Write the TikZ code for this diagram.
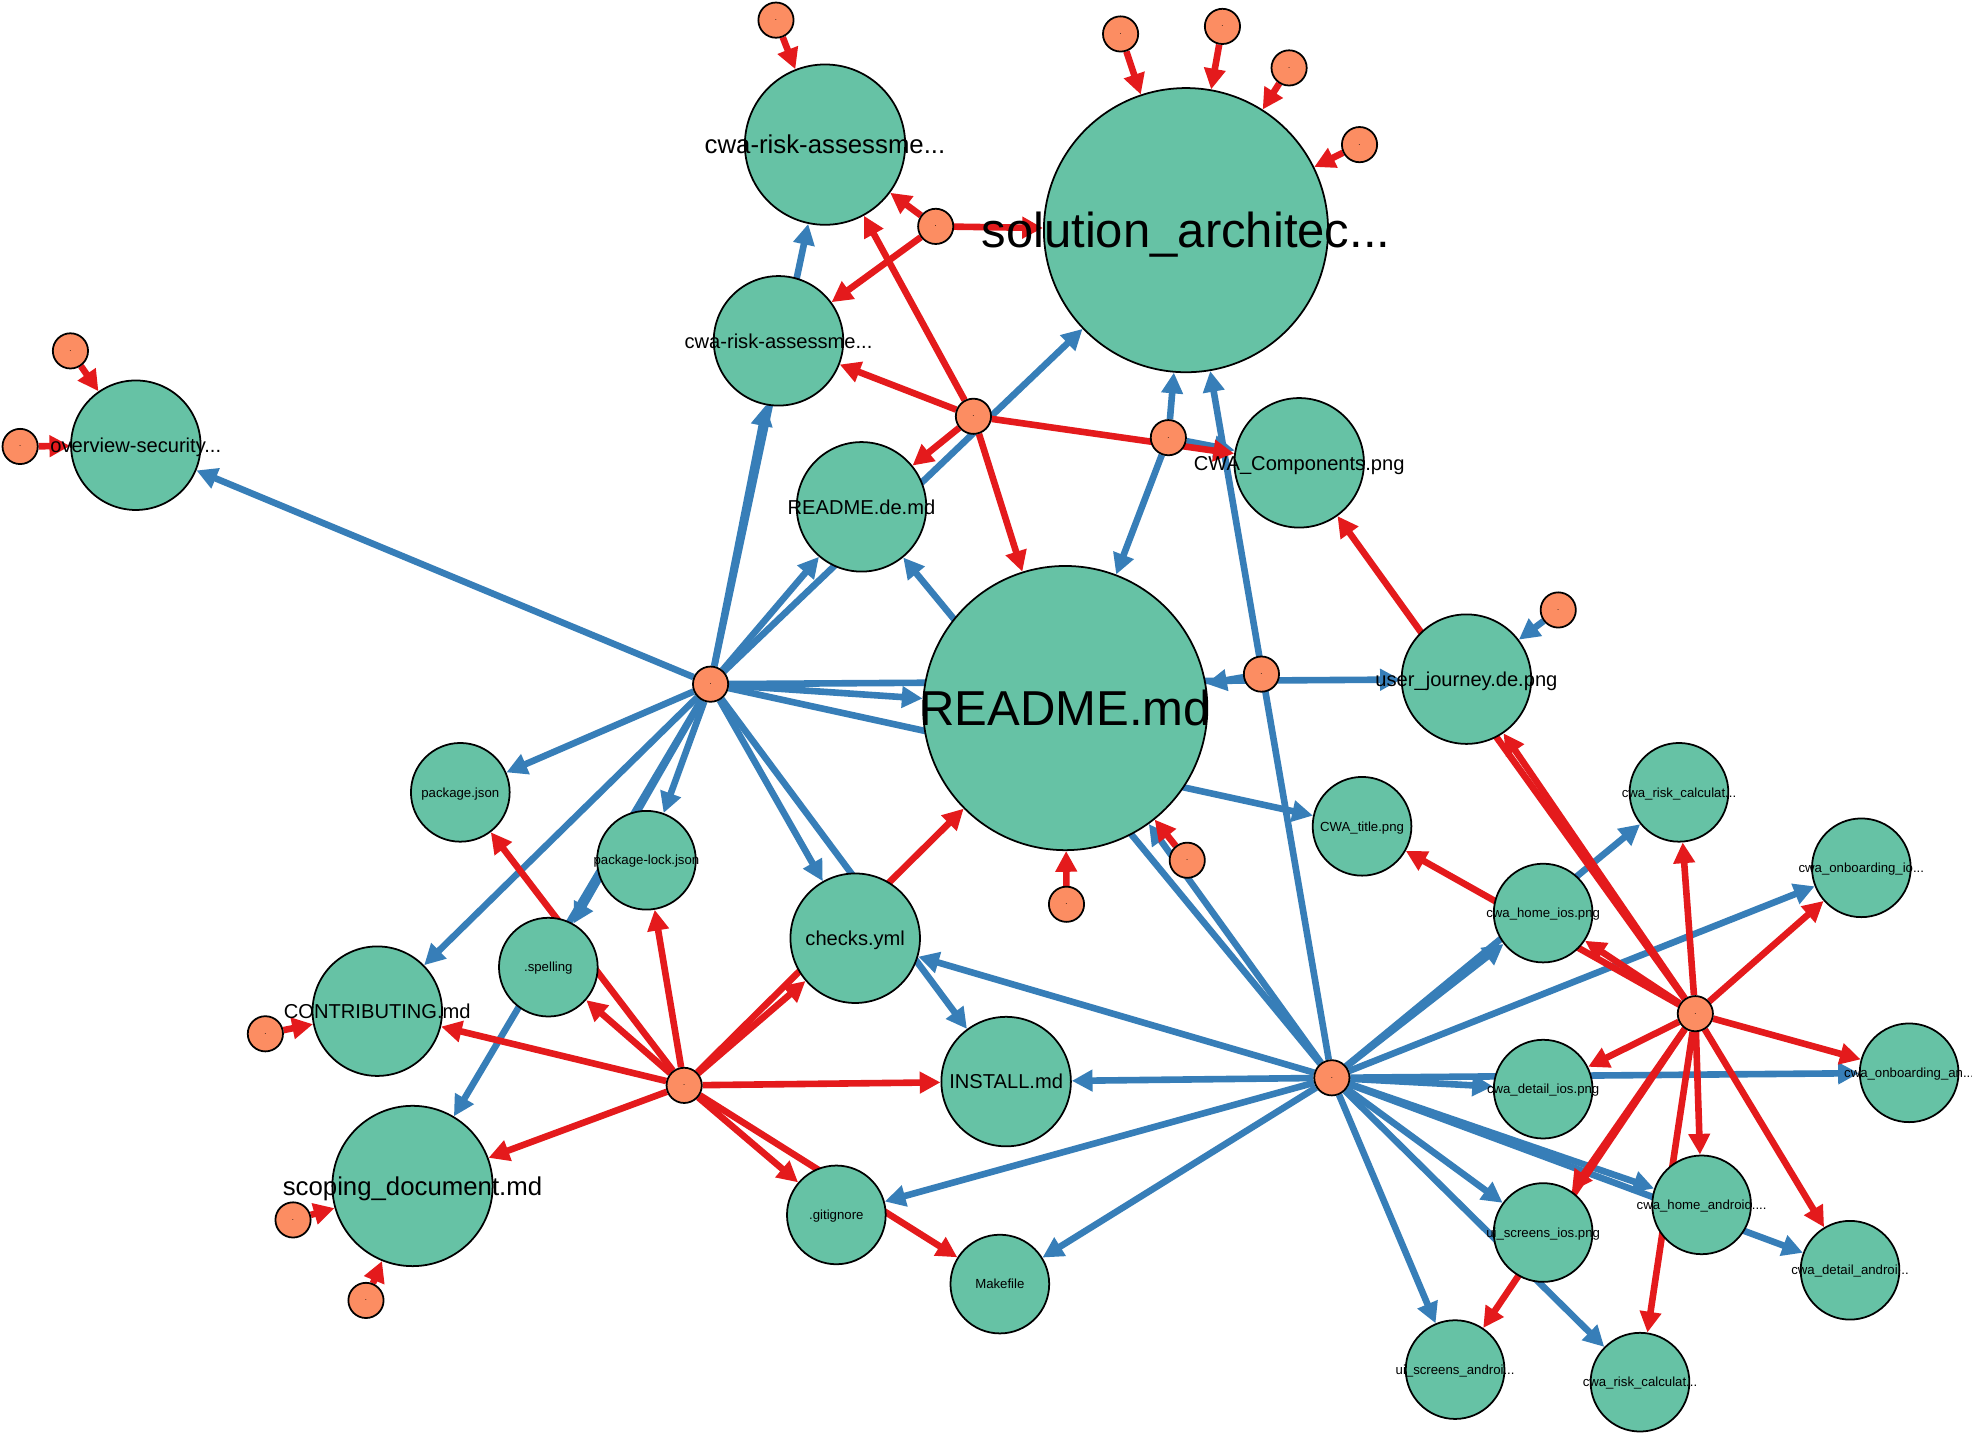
\documentclass[tikz,border=0pt]{standalone}
\usepackage{fontspec}
\setmainfont{Liberation Sans}
\usetikzlibrary{arrows.meta,backgrounds}
\definecolor{ngreen}{HTML}{66C2A5}
\definecolor{norange}{HTML}{FC8D62}
\definecolor{ered}{HTML}{E41A1C}
\definecolor{eblue}{HTML}{377EB8}
\begin{document}
\begin{tikzpicture}[x=0.02cm,y=-0.02cm,
  fnode/.style={circle,draw=black,line width=0.028cm,fill=ngreen,inner sep=0pt},
  bignode/.style={fnode,minimum size=4.52cm},
  largenode/.style={fnode,minimum size=2.55cm},
  midnode/.style={fnode,minimum size=2.06cm},
  smallnode/.style={fnode,minimum size=1.57cm},
  hub/.style={circle,draw=black,line width=0.028cm,fill=norange,inner sep=0pt,minimum size=0.56cm,font=\fontsize{0.12cm}{0.12cm}\selectfont},
  lab/.style={inner sep=0pt,text depth=0pt},
  lbig/.style={lab,font=\fontsize{0.78cm}{0.9cm}\selectfont,text height=0.56cm},
  llarge/.style={lab,font=\fontsize{0.41cm}{0.5cm}\selectfont,text height=0.295cm},
  lmid/.style={lab,font=\fontsize{0.32cm}{0.4cm}\selectfont,text height=0.23cm},
  lsmall/.style={lab,font=\fontsize{0.21cm}{0.25cm}\selectfont,text height=0.15cm},
  bedge/.style={draw=eblue,line width=0.105cm,-{Triangle[length=0.33cm,width=0.33cm]}},
  redge/.style={draw=ered,line width=0.105cm,-{Triangle[length=0.33cm,width=0.33cm]}}
]
\useasboundingbox (0,0) rectangle (1568,1139);
% green nodes
\node[largenode,label={[llarge]center:cwa-risk-assessme...}] (cwaA) at (656,115) {};
\node[bignode,label={[lbig]center:solution\_architec...}] (sol) at (943,183) {};
\node[midnode,label={[lmid]center:cwa-risk-assessme...}] (cwaB) at (619,271) {};
\node[midnode,label={[lmid]center:overview-security...}] (ovw) at (108,354) {};
\node[midnode,label={[lmid]center:README.de.md}] (rde) at (685,403) {};
\node[midnode,label={[lmid]center:CWA\_Components.png}] (comp) at (1033,368) {};
\node[bignode,label={[lbig]center:README.md}] (rmd) at (847,563) {};
\node[midnode,label={[lmid]center:user\_journey.de.png}] (uj) at (1166,540) {};
\node[smallnode,label={[lsmall]center:package.json}] (pkg) at (366,630) {};
\node[smallnode,label={[lsmall]center:package-lock.json}] (plock) at (514,684) {};
\node[midnode,label={[lmid]center:checks.yml}] (chk) at (680,746) {};
\node[smallnode,label={[lsmall]center:.spelling}] (spell) at (436,769) {};
\node[midnode,label={[lmid]center:CONTRIBUTING.md}] (contrib) at (300,804) {};
\node[midnode,label={[lmid]center:INSTALL.md}] (inst) at (800,860) {};
\node[largenode,label={[llarge]center:scoping\_document.md}] (scope) at (328,943) {};
\node[smallnode,label={[lsmall]center:.gitignore}] (git) at (665,966) {};
\node[smallnode,label={[lsmall]center:Makefile}] (make) at (795,1021) {};
\node[smallnode,label={[lsmall]center:CWA\_title.png}] (title) at (1083,657) {};
\node[smallnode,label={[lsmall]center:cwa\_risk\_calculat...}] (rcu) at (1335,630) {};
\node[smallnode,label={[lsmall]center:cwa\_onboarding\_io...}] (onio) at (1480,690) {};
\node[smallnode,label={[lsmall]center:cwa\_home\_ios.png}] (hios) at (1227,726) {};
\node[smallnode,label={[lsmall]center:cwa\_detail\_ios.png}] (dios) at (1227,866) {};
\node[smallnode,label={[lsmall]center:cwa\_onboarding\_an...}] (onan) at (1518,853) {};
\node[smallnode,label={[lsmall]center:ui\_screens\_ios.png}] (uios) at (1227,980) {};
\node[smallnode,label={[lsmall]center:cwa\_home\_android....}] (hand) at (1353,958) {};
\node[smallnode,label={[lsmall]center:cwa\_detail\_androi...}] (dand) at (1471,1010) {};
\node[smallnode,label={[lsmall]center:ui\_screens\_androi...}] (uand) at (1157,1089) {};
\node[smallnode,label={[lsmall]center:cwa\_risk\_calculat...}] (rcl) at (1304,1099) {};
% orange nodes
\node[hub] (oa) at (617,16) {.};
\node[hub] (ob1) at (891,27) {.};
\node[hub] (ob2) at (972,21) {.};
\node[hub] (ob3) at (1025,54) {.};
\node[hub] (ob4) at (1081,115) {.};
\node[hub] (hc) at (744,180) {.};
\node[hub] (hd) at (774,331) {.};
\node[hub] (he) at (929,348) {.};
\node[hub] (hf) at (565,544) {.};
\node[hub] (hg) at (1003,536) {.};
\node[hub] (hh) at (1059,857) {.};
\node[hub] (hi) at (1348,806) {.};
\node[hub] (hj) at (544,863) {.};
\node[hub] (o1) at (56,279) {.};
\node[hub] (o2) at (16,355) {.};
\node[hub] (o3) at (211,822) {.};
\node[hub] (o4) at (233,970) {.};
\node[hub] (o5) at (291,1034) {.};
\node[hub] (o6) at (848,719) {.};
\node[hub] (o7) at (944,684) {.};
\node[hub] (o8) at (1239,485) {.};
\begin{scope}[on background layer]
\fill[white] (0,0) rectangle (1568,1139);
% blue edges
\draw[bedge] (hf) -- (ovw);
\draw[bedge] (hf) -- (cwaB);
\draw[bedge] (hf) -- (cwaA);
\draw[bedge] (hf) -- (rde);
\draw[bedge] (hf) -- (sol);
\draw[bedge] (hf) -- (rmd);
\draw[bedge] (hf) -- (uj);
\draw[bedge] (hf) -- (title);
\draw[bedge] (hf) -- (pkg);
\draw[bedge] (hf) -- (plock);
\draw[bedge] (hf) -- (contrib);
\draw[bedge] (hf) -- (spell);
\draw[bedge] (hf) -- (scope);
\draw[bedge] (hf) -- (chk);
\draw[bedge] (hf) -- (inst);
\draw[bedge] (he) -- (sol);
\draw[bedge] (he) -- (rmd);
\draw[bedge] (he) -- (comp);
\draw[bedge] (hg) -- (rmd);
\draw[bedge] (hh) -- (sol);
\draw[bedge] (hh) -- (rde);
\draw[bedge] (hh) -- (rmd);
\draw[bedge] (hh) -- (chk);
\draw[bedge] (hh) -- (inst);
\draw[bedge] (hh) -- (git);
\draw[bedge] (hh) -- (make);
\draw[bedge] (hh) -- (hios);
\draw[bedge] (hh) -- (rcu);
\draw[bedge] (hh) -- (onio);
\draw[bedge] (hh) -- (dios);
\draw[bedge] (hh) -- (onan);
\draw[bedge] (hh) -- (hand);
\draw[bedge] (hh) -- (dand);
\draw[bedge] (hh) -- (uios);
\draw[bedge] (hh) -- (rcl);
\draw[bedge] (hh) -- (uand);
\draw[bedge] (o8) -- (uj);
% red edges
\draw[redge] (oa) -- (cwaA);
\draw[redge] (ob1) -- (sol);
\draw[redge] (ob2) -- (sol);
\draw[redge] (ob3) -- (sol);
\draw[redge] (ob4) -- (sol);
\draw[redge] (hc) -- (cwaA);
\draw[redge] (hc) -- (sol);
\draw[redge] (hc) -- (cwaB);
\draw[redge] (hd) -- (cwaA);
\draw[redge] (hd) -- (cwaB);
\draw[redge] (hd) -- (rde);
\draw[redge] (hd) -- (rmd);
\draw[redge] (hd) -- (comp);
\draw[redge] (o1) -- (ovw);
\draw[redge] (o2) -- (ovw);
\draw[redge] (o3) -- (contrib);
\draw[redge] (o4) -- (scope);
\draw[redge] (o5) -- (scope);
\draw[redge] (hj) -- (pkg);
\draw[redge] (hj) -- (spell);
\draw[redge] (hj) -- (plock);
\draw[redge] (hj) -- (contrib);
\draw[redge] (hj) -- (scope);
\draw[redge] (hj) -- (chk);
\draw[redge] (hj) -- (rmd);
\draw[redge] (hj) -- (inst);
\draw[redge] (hj) -- (git);
\draw[redge] (hj) -- (make);
\draw[redge] (o6) -- (rmd);
\draw[redge] (o7) -- (rmd);
\draw[redge] (hi) -- (uj);
\draw[redge] (hi) -- (comp);
\draw[redge] (hi) -- (hios);
\draw[redge] (hi) -- (title);
\draw[redge] (hi) -- (rcu);
\draw[redge] (hi) -- (onio);
\draw[redge] (hi) -- (onan);
\draw[redge] (hi) -- (dios);
\draw[redge] (hi) -- (uios);
\draw[redge] (hi) -- (uand);
\draw[redge] (hi) -- (hand);
\draw[redge] (hi) -- (dand);
\draw[redge] (hi) -- (rcl);
\end{scope}
\end{tikzpicture}
\end{document}
